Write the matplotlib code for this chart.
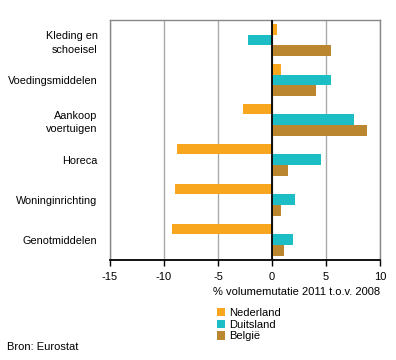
import numpy as np
import matplotlib
matplotlib.use("Agg")
import matplotlib.pyplot as plt

plt.rcParams['font.family'] = ['Liberation Sans', 'DejaVu Sans']

categories = ["Kleding en\nschoeisel", "Voedingsmiddelen", "Aankoop\nvoertuigen",
              "Horeca", "Woninginrichting", "Genotmiddelen"]
nederland = [0.45, 0.8, -2.7, -8.8, -9.0, -9.3]
duitsland = [-2.25, 5.5, 7.55, 4.5, 2.1, 1.9]
belgie = [5.5, 4.05, 8.75, 1.45, 0.8, 1.15]
series = ["Nederland", "Duitsland", "België"]
colors = ["#F9A61F", "#1DBDC6", "#BB8630"]
xticks = [-15, -10, -5, 0, 5, 10]

fig = plt.figure(figsize=(3.96, 3.6), dpi=100)
ax = fig.add_axes([110/396, 1-259.5/360, 270/396, 239.5/360])

y = np.arange(len(categories))
h = 0.267
for i, (vals, name, c) in enumerate(zip([nederland, duitsland, belgie], series, colors)):
    ax.barh(y + (i-1)*h, vals, height=h, color=c, label=name, zorder=3)

ax.set_xlim(-15, 10)
ax.set_ylim(5.5, -0.5)
ax.set_xticks(xticks)
ax.set_xticklabels([str(t) for t in xticks], fontsize=8)
ax.set_yticks(y)
ax.set_yticklabels(categories, fontsize=7.8, ha='right', linespacing=1.45)
ax.tick_params(axis='y', length=0, pad=9)
ax.tick_params(axis='x', direction='out', length=4, width=1, color='black', pad=5)
ax.grid(axis='x', color='#AAAAAA', linewidth=1, zorder=0)
ax.axvline(0, color='black', linewidth=1.3, zorder=4)
for s in ['top', 'left', 'right']:
    ax.spines[s].set_color('#888888')
    ax.spines[s].set_linewidth(1)
ax.spines['bottom'].set_color('black')
ax.spines['bottom'].set_linewidth(1.3)

fig.text(380/396, 1-292/360, "% volumemutatie 2011 t.o.v. 2008", ha='right', va='center', fontsize=8)

handles, labels = ax.get_legend_handles_labels()
fig.legend(handles, labels, loc='upper left', bbox_to_anchor=(217/396, 1-308/360),
           frameon=False, fontsize=8, handlelength=0.75, handleheight=0.75,
           handletextpad=0.3, labelspacing=0.15, borderpad=0, borderaxespad=0)

fig.text(7/396, 1-347/360, "Bron: Eurostat", ha='left', va='center', fontsize=8)

fig.savefig("out.png", dpi=100)
